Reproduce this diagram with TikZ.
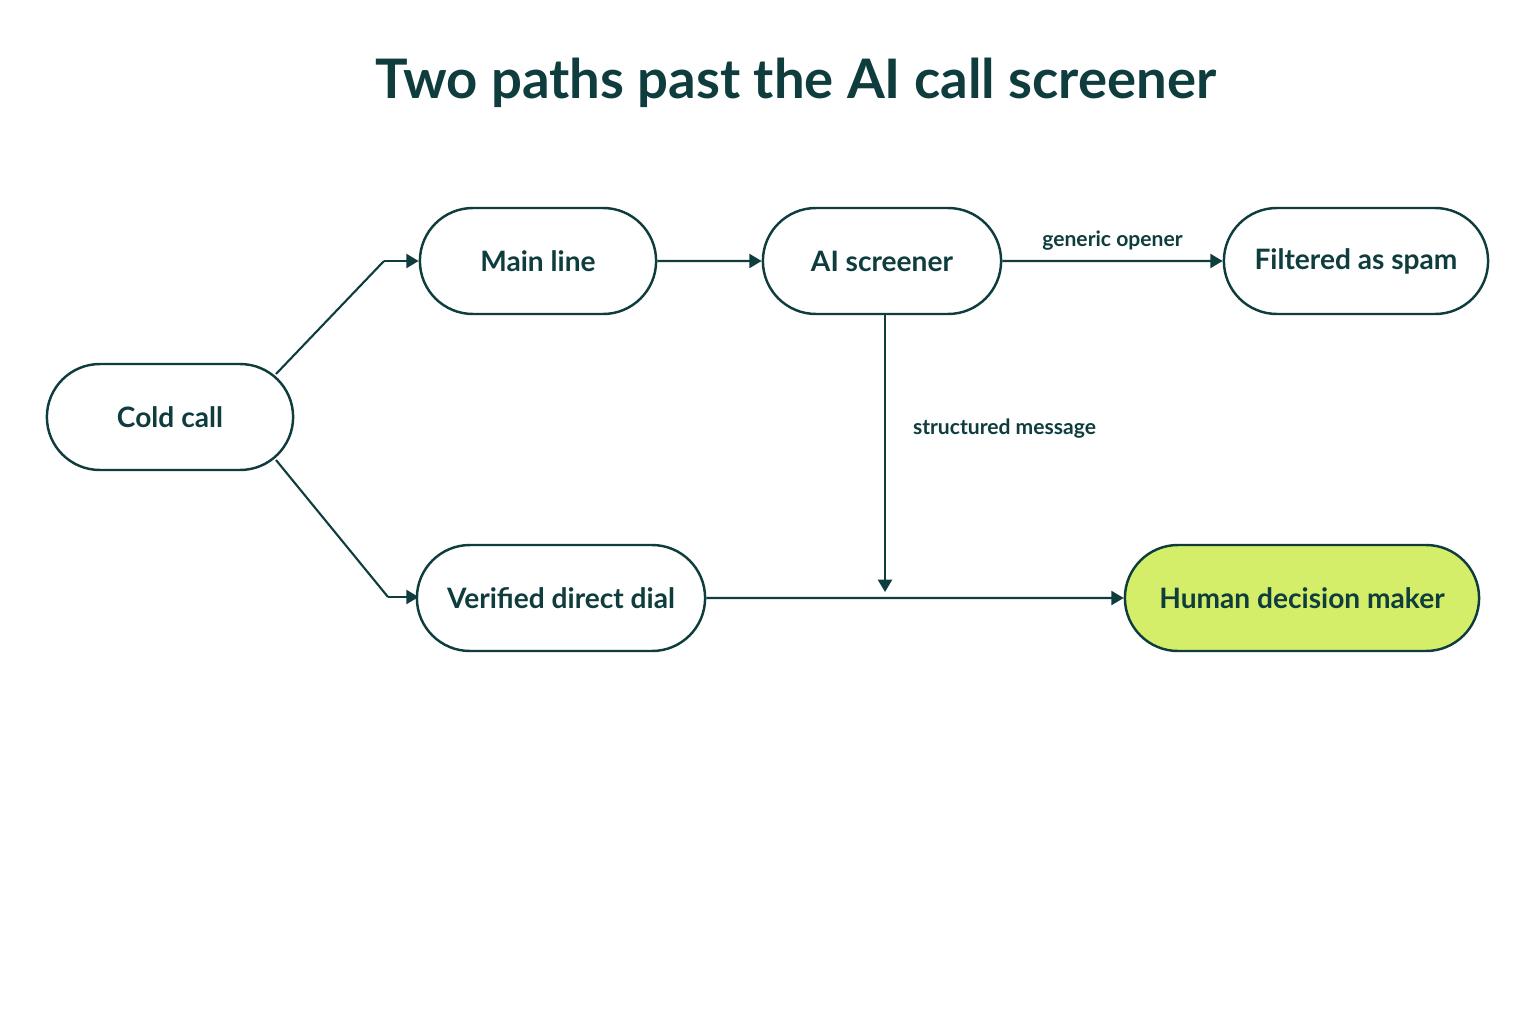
\documentclass[tikz,border=0pt]{standalone}
\usepackage{fontspec}
\setmainfont{Lato}
\usetikzlibrary{positioning,arrows.meta,shapes.misc}
\definecolor{ink}{HTML}{0F3D3E}
\definecolor{lime}{HTML}{D4EE6A}
\begin{document}
\begin{tikzpicture}[x=0.02cm,y=-0.02cm,
      type-step/.style={rounded rectangle, draw=ink, line width=1.4pt, fill=white,
        minimum height=2.12cm, text=ink, font=\fontsize{16}{19}\selectfont\bfseries},
      type-goal/.style={type-step, fill=lime},
      type-label/.style={text=ink, font=\fontsize{12}{14}\selectfont\bfseries},
      every edge/.style={draw=ink, line width=1.2pt, -{Triangle[length=7pt,width=8pt]}}
    ]
      \useasboundingbox (0,0) rectangle (1536,1024);
      \node[text=ink, font=\fontsize{31}{36}\selectfont\bfseries] (title) at (796,83) {Two paths past the AI call screener};
      % nodes
      \node[type-step, minimum width=5.16cm] (cold) at (170,417) {Cold call};
      \node[type-step, minimum width=4.96cm] (main) at (538,261) {Main line};
      \node[type-step, minimum width=5.0cm] (screen) at (882,261) {AI screener};
      \node[type-step, minimum width=5.52cm] (spam) at (1356,261) {Filtered as spam};
      \node[type-step, minimum width=6.0cm] (direct) at (561,598) {Verified direct dial};
      \node[type-goal, minimum width=7.32cm] (human) at (1302,598) {Human decision maker};
      % connectors
      \coordinate (cold-up) at (276,374);
      \coordinate (cold-down) at (276,460);
      \coordinate (upper) at (384,261);
      \coordinate (lower) at (388,597);
      \coordinate (join) at (885,592);
      \draw[draw=ink, line width=1.2pt] (cold-up) -- (upper) edge (main.west);
      \draw[draw=ink, line width=1.2pt] (cold-down) -- (lower) edge (main.west |- lower);
      \draw (main) edge (screen);
      \draw (screen) edge node[type-label, above, yshift=2pt] {generic opener} (spam);
      \draw (screen.south -| join) edge node[type-label, right, pos=0.41, xshift=12pt] {structured message} (join);
      \draw (direct) edge (human);
\end{tikzpicture}
\end{document}
